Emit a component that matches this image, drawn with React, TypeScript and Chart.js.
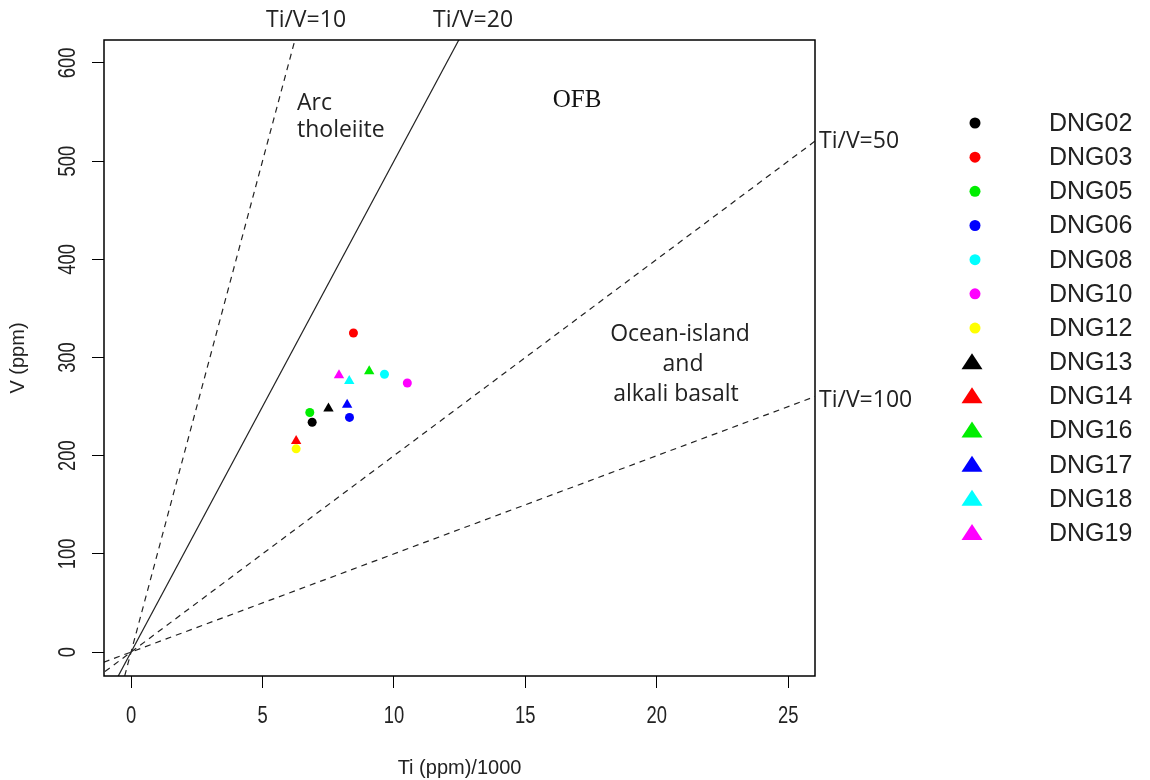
import { useEffect, useRef } from "react";
import { Chart, registerables } from "chart.js";

Chart.register(...registerables);

// ---- data ----
const sampleNames = ["DNG02", "DNG03", "DNG05", "DNG06", "DNG08", "DNG10", "DNG12", "DNG13", "DNG14", "DNG16", "DNG17", "DNG18", "DNG19"];
const sampleColors = ["#000000", "#ff0000", "#00ee00", "#0000ff", "#00ffff", "#ff00ff", "#ffff00", "#000000", "#ff0000", "#00ee00", "#0000ff", "#00ffff", "#ff00ff"];
const sampleShapes = ["circle", "circle", "circle", "circle", "circle", "circle", "circle", "triangle", "triangle", "triangle", "triangle", "triangle", "triangle"];
const tiValues = [6.89, 8.46, 6.8, 8.31, 9.64, 10.51, 6.28, 7.51, 6.28, 9.06, 8.22, 8.3, 7.91];
const vValues = [234, 325, 244, 239, 283, 274, 207, 248, 215, 286, 252, 276, 282];

const ratioLabels = ["Ti/V=10", "Ti/V=20", "Ti/V=50", "Ti/V=100"];
const ratioLineTi = [[-1, 7], [-1, 13], [-2, 27], [-3, 27]];
const ratioLineV = [[-100, 700], [-50, 650], [-40, 540], [-30, 270]];
const ratioDashed = [true, false, true, true];

const xTicks = [0, 5, 10, 15, 20, 25];
const yTicks = [0, 100, 200, 300, 400, 500, 600];

const SANS = '"Liberation Sans", Arial, sans-serif';
const CAL = '"Open Sans", "Noto Sans", sans-serif';

const overlayPlugin = {
  id: "overlay",
  afterDraw(chart: any) {
    const { ctx, chartArea } = chart;
    const ys = chart.scales.y;
    const xs = chart.scales.x;
    ctx.save();
    // box
    ctx.strokeStyle = "#000";
    ctx.lineWidth = 1.5;
    ctx.strokeRect(chartArea.left, chartArea.top, chartArea.right - chartArea.left, chartArea.bottom - chartArea.top);

    // tick labels (condensed, R style)
    ctx.fillStyle = "#222";
    ctx.font = `23px ${SANS}`;
    ctx.textAlign = "center";
    ctx.textBaseline = "middle";
    yTicks.forEach((v) => {
      const py = ys.getPixelForValue(v);
      ctx.save();
      ctx.translate(69, py);
      ctx.rotate(-Math.PI / 2);
      ctx.scale(0.8, 1);
      ctx.fillText(String(v), 0, 0);
      ctx.restore();
    });
    xTicks.forEach((v) => {
      const px = xs.getPixelForValue(v);
      ctx.save();
      ctx.translate(px, 717);
      ctx.scale(0.8, 1);
      ctx.fillText(String(v), 0, 0);
      ctx.restore();
    });

    // annotations
    ctx.fillStyle = "#222";
    ctx.font = `23px ${CAL}`;
    ctx.textBaseline = "middle";
    ctx.textAlign = "center";
    ctx.fillText(ratioLabels[0], 306, 20);
    ctx.fillText(ratioLabels[1], 473, 20);
    ctx.textAlign = "left";
    ctx.fillText(ratioLabels[2], 819, 141);
    ctx.fillText(ratioLabels[3], 819, 400);
    ctx.fillText("Arc", 297, 103);
    ctx.fillText("tholeiite", 297, 130);
    ctx.textAlign = "center";
    ctx.fillText("Ocean-island", 680, 334);
    ctx.fillText("and", 683, 364);
    ctx.fillText("alkali basalt", 676, 394);
    ctx.fillStyle = "#111";
    ctx.font = `25px "Liberation Serif", "DejaVu Serif", serif`;
    ctx.fillText("OFB", 577, 100);

    // legend
    const sampleSets = chart.data.datasets.filter((d: any) => d.isSample);
    ctx.font = `25px ${SANS}`;
    ctx.textAlign = "left";
    ctx.textBaseline = "middle";
    sampleSets.forEach((d: any, i: number) => {
      const y = 123 + i * 34.17;
      ctx.fillStyle = d.backgroundColor;
      ctx.beginPath();
      if (d.pointStyle === "triangle") {
        ctx.moveTo(972, y - 9);
        ctx.lineTo(982.5, y + 7);
        ctx.lineTo(961.5, y + 7);
        ctx.closePath();
      } else {
        ctx.arc(975, y, 5.5, 0, Math.PI * 2);
      }
      ctx.fill();
      ctx.fillStyle = "#222";
      ctx.fillText(d.label, 1049, y + 1);
    });
    ctx.restore();
  },
};

export default function App() {
  const ref = useRef<HTMLCanvasElement | null>(null);
  useEffect(() => {
    if (!ref.current) return;
    const lineSets = ratioLabels.map((lab, i) => ({
      label: lab,
      data: ratioLineTi[i].map((t, j) => ({ x: t, y: ratioLineV[i][j] })),
      showLine: true,
      borderColor: "#222",
      borderWidth: 1.2,
      borderDash: ratioDashed[i] ? [6, 5] : [],
      pointRadius: 0,
      order: 100,
      isSample: false,
    }));
    const pointSets = sampleNames.map((name, i) => ({
      label: name,
      data: [{ x: tiValues[i], y: vValues[i] }],
      showLine: false,
      pointStyle: sampleShapes[i],
      pointRadius: sampleShapes[i] === "triangle" ? 6 : 4.5,
      backgroundColor: sampleColors[i],
      borderColor: sampleColors[i],
      borderWidth: 0,
      order: sampleNames.length - i,
      isSample: true,
    }));
    const chart = new Chart(ref.current, {
      type: "scatter",
      data: { datasets: [...lineSets, ...pointSets] as any },
      options: {
        responsive: false,
        animation: false,
        events: [],
        layout: { padding: { top: 40, right: 335, left: 0, bottom: 0 } },
        plugins: { legend: { display: false }, tooltip: { enabled: false } },
        scales: {
          x: {
            type: "linear",
            min: -1.03,
            max: 26.02,
            afterBuildTicks: (s: any) => {
              s.ticks = xTicks.map((v) => ({ value: v }));
            },
            afterFit: (s: any) => {
              s.height = 104;
            },
            ticks: { display: false },
            grid: { drawOnChartArea: false, drawTicks: true, tickLength: 12, tickColor: "#000", color: "#000" },
            border: { display: false },
            title: { display: true, text: "Ti (ppm)/1000", font: { family: SANS, size: 20 }, color: "#222", padding: { top: 0, bottom: 0 } },
          },
          y: {
            type: "linear",
            min: -24.4,
            max: 623.4,
            afterBuildTicks: (s: any) => {
              s.ticks = yTicks.map((v) => ({ value: v }));
            },
            afterFit: (s: any) => {
              s.width = 104;
            },
            ticks: { display: false },
            grid: { drawOnChartArea: false, drawTicks: true, tickLength: 12, tickColor: "#000", color: "#000" },
            border: { display: false },
            title: { display: true, text: "V (ppm)", font: { family: SANS, size: 20 }, color: "#222", padding: { top: 6, bottom: 0 } },
          },
        },
      },
      plugins: [overlayPlugin],
    });
    return () => chart.destroy();
  }, []);
  return (
    <div style={{ position: "fixed", left: 0, top: 0, width: 1150, height: 780, background: "#fff" }}>
      <canvas ref={ref} width={1150} height={780} style={{ width: 1150, height: 780 }} />
    </div>
  );
}
